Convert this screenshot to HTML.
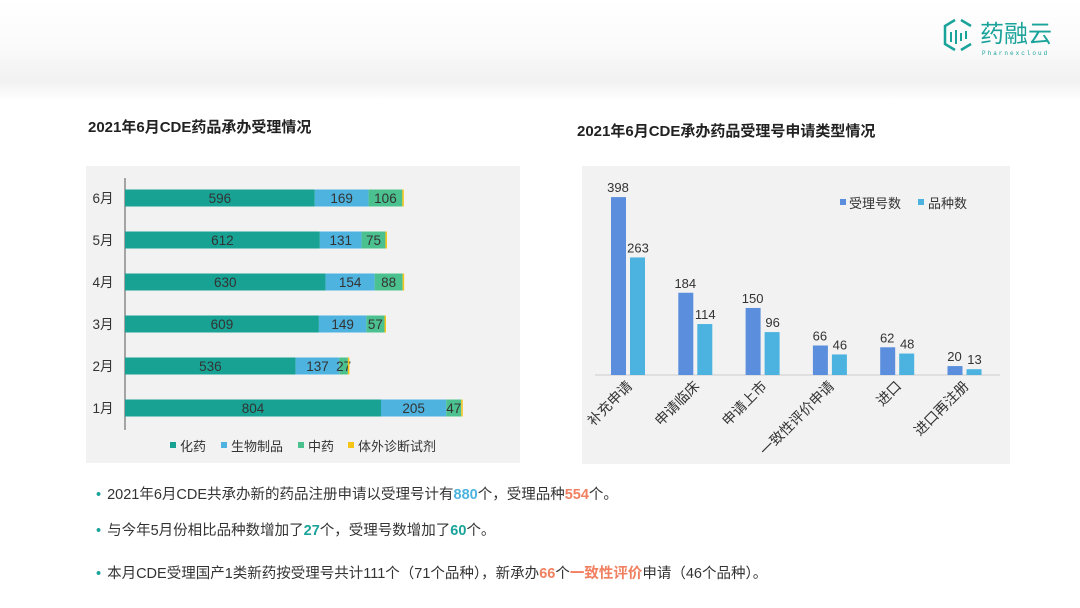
<!DOCTYPE html>
<html><head><meta charset="utf-8"><style>
body{margin:0;width:1080px;height:608px;overflow:hidden;background:#fff;font-family:"Liberation Sans","Noto Sans CJK SC",sans-serif;position:relative}
.abs{position:absolute}
.t{font-weight:bold;font-size:15px;color:#222}
.b{font-size:14.5px;color:#333;white-space:nowrap}
.dot{color:#1aa39a;margin-right:6px}
</style></head><body>
<svg class="abs" style="left:0;top:0" width="1080" height="100"><defs><linearGradient id="g" x1="0" y1="0" x2="0" y2="1"><stop offset="0" stop-color="#fff"/><stop offset="0.5" stop-color="#fafafa"/><stop offset="0.8" stop-color="#f1f1f1"/><stop offset="1" stop-color="#fff"/></linearGradient></defs><rect width="1080" height="100" fill="url(#g)"/>
<g fill="none" stroke="#1aa39a" stroke-width="2.5"><path d="M955 20 L945 26 L945 44 L955 50 M961 20 L971 26 M961 50 L971 44"/></g>
<g stroke="#1aa39a" stroke-width="2"><line x1="951" y1="32" x2="951" y2="42"/><line x1="956" y1="30" x2="956" y2="44"/><line x1="961" y1="33" x2="961" y2="41"/><line x1="966" y1="31" x2="966" y2="39"/></g>
<text x="980" y="42" font-size="24" fill="#1aa39a" font-family="Liberation Sans,Noto Sans CJK SC,sans-serif">药融云</text>
<text x="982" y="55" font-size="6" fill="#1aa39a" letter-spacing="2" font-family="Liberation Mono,monospace">Pharnexcloud</text></svg>
<div class="abs t" style="left:88px;top:116px">2021年6月CDE药品承办受理情况</div>
<div class="abs t" style="left:577px;top:120px">2021年6月CDE承办药品受理号申请类型情况</div>
<svg class="abs" style="left:0;top:0" width="1080" height="608" font-family="Liberation Sans,Noto Sans CJK SC,sans-serif">
<rect x="86" y="166" width="434" height="297" fill="#f2f2f2"/>
<line x1="125" y1="178" x2="125" y2="430" stroke="#555"/>
<g font-size="13.5" fill="#333" text-anchor="middle">
<g id="rows"></g>
</g>
<rect x="582" y="166" width="428" height="298" fill="#f2f2f2"/>
<line x1="595" y1="375" x2="1000" y2="375" stroke="#ccc"/>
<g id="bars" font-size="13" fill="#333" text-anchor="middle"></g>
<g font-size="13" fill="#333">
<rect x="840" y="199" width="6" height="6" fill="#5b8fde"/><text x="849" y="208">受理号数</text>
<rect x="918" y="199" width="6" height="6" fill="#4cb3e0"/><text x="928" y="208">品种数</text>
<rect x="170" y="442" width="6" height="6" fill="#17a293"/><text x="180" y="451">化药</text>
<rect x="221" y="442" width="6" height="6" fill="#4fb3e0"/><text x="231" y="451">生物制品</text>
<rect x="298" y="442" width="6" height="6" fill="#4cc190"/><text x="308" y="451">中药</text>
<rect x="348" y="442" width="6" height="6" fill="#f5c518"/><text x="358" y="451">体外诊断试剂</text>
</g>
</svg>
<div class="abs b" style="left:96px;top:483px"><span class="dot">•</span>2021年6月CDE共承办新的药品注册申请以受理号计有<b style="color:#4cb3e0">880</b>个，受理品种<b style="color:#f08060">554</b>个。</div>
<div class="abs b" style="left:96px;top:519px"><span class="dot">•</span>与今年5月份相比品种数增加了<b style="color:#1aa39a">27</b>个，受理号数增加了<b style="color:#1aa39a">60</b>个。</div>
<div class="abs b" style="left:96px;top:562px"><span class="dot">•</span>本月CDE受理国产1类新药按受理号共计111个（71个品种），新承办<b style="color:#f08060">66</b>个<b style="color:#f08060">一致性评价</b>申请（46个品种）。</div>
<script>
var NS="http://www.w3.org/2000/svg";
function el(p,t,a,tx){var e=document.createElementNS(NS,t);for(var k in a)e.setAttribute(k,a[k]);if(tx!=null)e.textContent=tx;p.appendChild(e);return e;}
var rows=document.getElementById('rows');
var d=[["6月",596,169,106],["5月",612,131,75],["4月",630,154,88],["3月",609,149,57],["2月",536,137,27],["1月",804,205,47]];
var s=0.3184,cols=["#17a293","#4fb3e0","#4cc190"];
d.forEach(function(r,i){var cy=198+42*i,x=125;
el(rows,'text',{x:103,y:cy+5,'text-anchor':'middle'},r[0]);
for(var j=1;j<4;j++){var w=r[j]*s;el(rows,'rect',{x:x,y:cy-8.5,width:w,height:17,fill:cols[j-1]});
el(rows,'text',{x:x+w/2,y:cy+5},r[j]);x+=w;}
el(rows,'rect',{x:x,y:cy-8.5,width:1.5,height:17,fill:"#f5c518"});});
var bars=document.getElementById('bars');
var b=[["补充申请",398,263],["申请临床",184,114],["申请上市",150,96],["一致性评价申请",66,46],["进口",62,48],["进口再注册",20,13]];
var k=0.447;
b.forEach(function(r,i){var x=611+67.3*i;
var h1=r[1]*k,h2=r[2]*k;
el(bars,'rect',{x:x,y:375-h1,width:15,height:h1,fill:"#5b8fde"});
el(bars,'rect',{x:x+19,y:375-h2,width:15,height:h2,fill:"#4cb3e0"});
el(bars,'text',{x:x+7,y:375-h1-5},r[1]);
el(bars,'text',{x:x+27,y:375-h2-5},r[2]);
el(bars,'text',{x:x+22,y:387,'text-anchor':'end','font-size':14,transform:'rotate(-45 '+(x+22)+' 387)'},r[0]);});
</script>
</body></html>
